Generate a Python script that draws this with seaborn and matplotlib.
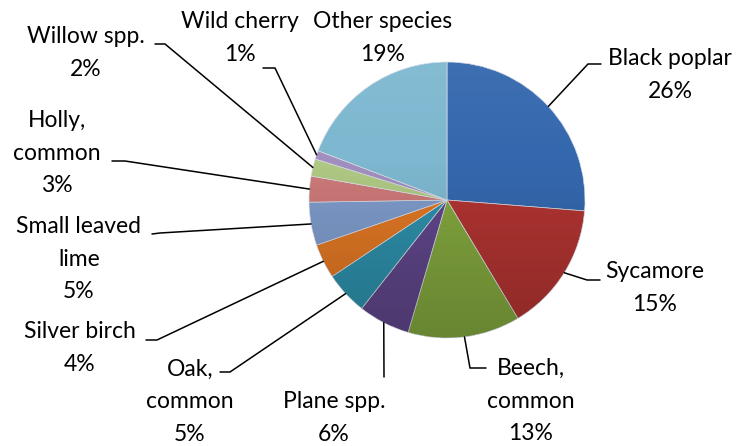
import numpy as np
import matplotlib.pyplot as plt
import matplotlib.patches as mpatches
import seaborn as sns

# ============================
# Data
# ============================
species = ['Black poplar', 'Sycamore', 'Beech,\ncommon', 'Plane spp.', 'Oak,\ncommon',
           'Silver birch', 'Small leaved\nlime', 'Holly,\ncommon', 'Willow spp.',
           'Wild cherry', 'Other species']
shares = [26, 15, 13, 6, 5, 4, 5, 3, 2, 1, 19]
colours = ['#3468AE', '#B03431', '#82A63E', '#5F4689', '#2D8FA9', '#DF7724',
           '#7F9BCB', '#CC7A78', '#AFC984', '#A18FBF', '#7DB8D0']

# ============================
# Layout (pixels, y measured from top)
# ============================
W, H = 738, 446
CX, CY, R = 447, 200, 138
# text centre, leader elbow, leader end (None = no leader)
text_pos = [(670, 75), (655, 288), (531, 401), (334, 418), (190, 402), (80, 348),
            (79, 259), (57, 153), (86, 53), (240, 38), (383, 38)]
elbows = [(588, 64), (587, 280), (470, 368), (384, 377), (230, 372), (157, 340),
          (160, 233), (125, 161), (165, 44), (275, 68), None]
ends = [(601, 64), (600, 280), (486, 368), (384, 377), (220, 372), (146, 340),
        (152, 234), (112, 161), (155, 44), (263, 68), None]

sns.set_theme(style='white')
plt.rcParams['font.family'] = ['Lato', 'DejaVu Sans']

fig = plt.figure(figsize=(W / 100, H / 100), dpi=100)
ax = fig.add_axes([0, 0, 1, 1])

wedges, _ = ax.pie(shares, colors=sns.color_palette(colours), startangle=90,
                   counterclock=False, center=(CX, H - CY), radius=R,
                   wedgeprops=dict(edgecolor='#d8dde6', linewidth=0.5))

# subtle vertical shading like the Excel style
shade = np.zeros((256, 1, 4))
t = np.linspace(0, 1, 256)
shade[:, 0, :3] = np.where(t[:, None] < 0.35, 1.0, 0.0)
shade[:, 0, 3] = np.where(t < 0.35, 0.05 * (0.35 - t) / 0.35, 0.20 * (t - 0.35) / 0.65)
circle = mpatches.Circle((CX, H - CY), R, transform=ax.transData, visible=False)
ax.add_patch(circle)
img = ax.imshow(shade, extent=[CX - R, CX + R, H - CY - R, H - CY + R],
                origin='upper', aspect='auto', zorder=3, interpolation='bilinear')
img.set_clip_path(circle)

# ============================
# Labels and leader lines
# ============================
for i, w in enumerate(wedges):
    label = f'{species[i]}\n{shares[i]}%'
    tx, ty = text_pos[i]
    ax.text(tx, H - ty, label, ha='center', va='center', fontsize=16.5,
            color='black', linespacing=1.67, zorder=5)
    if elbows[i] is None:
        continue
    mid = np.deg2rad((w.theta1 + w.theta2) / 2)
    sx = CX + R * np.cos(mid)
    sy = (H - CY) + R * np.sin(mid)
    ex, ey = elbows[i]
    fx, fy = ends[i]
    ax.plot([sx, ex, fx], [sy, H - ey, H - fy], color='black', lw=1.1,
            zorder=4, solid_joinstyle='miter')

ax.set_xlim(0, W)
ax.set_ylim(0, H)
ax.set_aspect('equal')
ax.axis('off')

plt.savefig('out.png', dpi=100, facecolor='white')
